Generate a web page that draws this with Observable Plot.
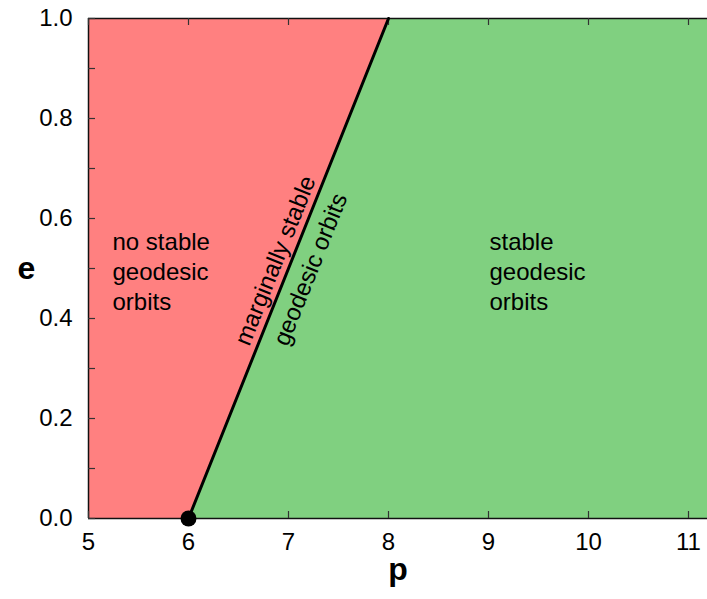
<!DOCTYPE html>
<html>
<head>
<meta charset="utf-8">
<script src="https://cdn.jsdelivr.net/npm/d3@7"></script>
<script src="https://cdn.jsdelivr.net/npm/@observablehq/plot@0.6"></script>
<style>
  body { margin: 0; background: #fff; }
  #chart { width: 707px; height: 599px; }
</style>
</head>
<body>
<div id="chart"></div>
<script>
// Separatrix p = 6 + 2e (marginally stable orbits)
const sepE = [0, 0.2, 0.4, 0.6, 0.8, 1.0];
const sepP = [6, 6.4, 6.8, 7.2, 7.6, 8.0];
const xDomain = [5, 11.19];
const yDomain = [0, 1];
const xTicks = [5, 6, 7, 8, 9, 10, 11];
const yTicks = [0, 0.1, 0.2, 0.3, 0.4, 0.5, 0.6, 0.7, 0.8, 0.9, 1.0];
const yTickLabels = [0, 0.2, 0.4, 0.6, 0.8, 1.0];
const labelTexts = ["no stable\ngeodesic\norbits", "stable\ngeodesic\norbits"];
const labelP = [5.24, 9.01];
const labelE = [0.496];
const rotTexts = ["marginally stable", "geodesic orbits"];
const rotP = [6.87, 7.22];
const rotE = [0.516, 0.498];
const pointP = [6];
const pointE = [0];

const W = 707, H = 599, mL = 88, mR = 0, mT = 18, mB = 81;
const pxX = (W - mL - mR) / (xDomain[1] - xDomain[0]);
const pxY = (H - mT - mB) / (yDomain[1] - yDomain[0]);
const tickLen = 7;
const fs = 24;

const sep = sepE.map((e, i) => ({e, p: sepP[i]}));
const labels = labelTexts.map((t, i) => ({t, p: labelP[i], e: labelE[0]}));
const rot = rotTexts.map((t, i) => ({t, p: rotP[i], e: rotE[i]}));
const pts = pointP.map((p, i) => ({p, e: pointE[i]}));

const plot = Plot.plot({
  width: W, height: H,
  marginLeft: mL, marginRight: mR, marginTop: mT, marginBottom: mB,
  style: {fontFamily: "Liberation Sans, Arial, sans-serif", fontSize: fs + "px", background: "#fff", overflow: "visible"},
  x: {domain: xDomain, label: null},
  y: {domain: yDomain, label: null},
  marks: [
    Plot.areaX(sep, {y: "e", x1: xDomain[0], x2: "p", fill: "#ff8080", curve: "linear"}),
    Plot.areaX(sep, {y: "e", x1: "p", x2: xDomain[1], fill: "#80d080", curve: "linear"}),
    // frame lines
    Plot.ruleX([xDomain[0]], {stroke: "#111", strokeWidth: 1.5}),
    Plot.ruleY([yDomain[0], yDomain[1]], {stroke: "#111", strokeWidth: 1.5}),
    // inward ticks
    Plot.ruleY(yTicks, {y: d => d, x1: xDomain[0], x2: xDomain[0] + tickLen / pxX, stroke: "#333", strokeWidth: 1.2}),
    Plot.ruleX(xTicks, {x: d => d, y1: yDomain[0], y2: yDomain[0] + tickLen / pxY, stroke: "#333", strokeWidth: 1.2}),
    Plot.ruleX(xTicks, {x: d => d, y1: yDomain[1], y2: yDomain[1] - tickLen / pxY, stroke: "#333", strokeWidth: 1.2}),
    Plot.axisX({ticks: xTicks, tickSize: 0, tickPadding: 14, tickFormat: d => String(d), fontSize: fs, fill: "#000"}),
    Plot.axisY({ticks: yTickLabels, tickSize: 0, tickPadding: 16, tickFormat: d3.format(".1f"), fontSize: fs, fill: "#000"}),
    Plot.line(sep, {x: "p", y: "e", stroke: "#000", strokeWidth: 3}),
    Plot.dot(pts, {x: "p", y: "e", r: 8, fill: "#000"}),
    Plot.text(labels, {x: "p", y: "e", text: "t", textAnchor: "start", lineHeight: 1.25, fontSize: fs, fill: "#000"}),
    Plot.text(rot, {x: "p", y: "e", text: "t", rotate: -68.2, fontSize: fs, fill: "#000"}),
    Plot.text(["e"], {frameAnchor: "left", dx: -71, text: d => d, fontSize: 32, fontWeight: "bold", fill: "#000"}),
    Plot.text(["p"], {frameAnchor: "bottom", dy: 61, text: d => d, fontSize: 32, fontWeight: "bold", fill: "#000"})
  ]
});
document.getElementById("chart").appendChild(plot);
</script>
</body>
</html>
